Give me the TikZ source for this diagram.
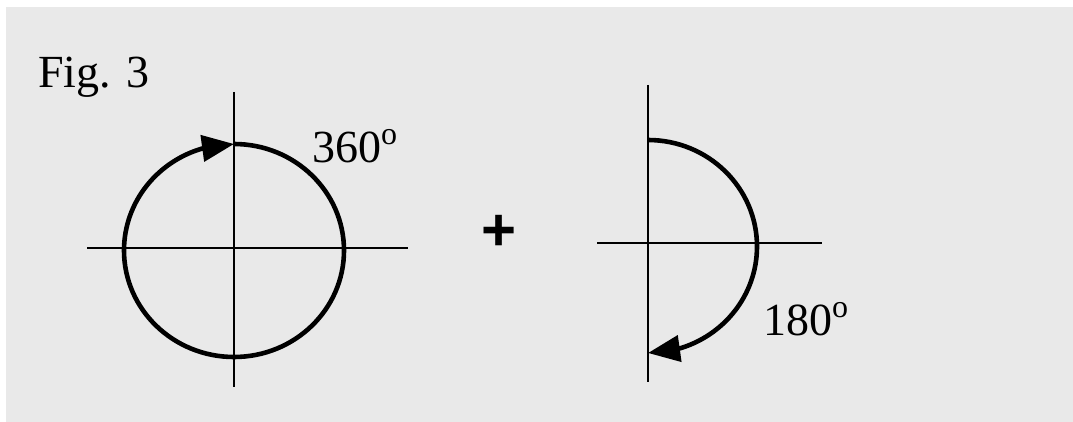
\documentclass[tikz,border=0pt]{standalone}
\usepackage{fontspec}
\setmainfont{Liberation Serif}
\newfontfamily\plusfont{Liberation Sans}
\usetikzlibrary{arrows.meta,bending}
\definecolor{panel}{HTML}{E9E9E9}
\newcommand\supo{\raisebox{18pt}{\fontsize{32}{32}\selectfont o}}
\tikzset{axisline/.style={line width=1.8pt,draw=black},
  turnarc/.style={line width=4.6pt,draw=black,-{Triangle[length=32pt,width=26pt]}},
  anglelabel/.style={anchor=base west,inner sep=0pt,font=\fontsize{46}{55}\selectfont}}
\begin{document}
\begin{tikzpicture}[x=1pt,y=-1pt]
\useasboundingbox (0,0) rectangle (1073,422);
\fill[panel] (6,7) rectangle (1073,422);
\node[anglelabel] (title) at (38,88) {Fig. 3};
% full turn
\draw[axisline] (87,248) -- (408,248);
\draw[axisline] (234,92) -- (234,387);
\draw[turnarc] (234,144) arc[start angle=-90,end angle=270,x radius=110,y radius=106.5];
\node[anglelabel] (full) at (312,163) {360\supo};
\node[inner sep=0pt,font=\plusfont\bfseries\fontsize{60}{60}\selectfont] (plus) at (499,233) {+};
% half turn
\draw[axisline] (597,243) -- (822,243);
\draw[axisline] (648,85) -- (648,382);
\draw[turnarc] (648,140) arc[start angle=-90,end angle=90,x radius=109,y radius=106.5];
\node[anglelabel] (half) at (763,335) {180\supo};
\end{tikzpicture}
\end{document}
